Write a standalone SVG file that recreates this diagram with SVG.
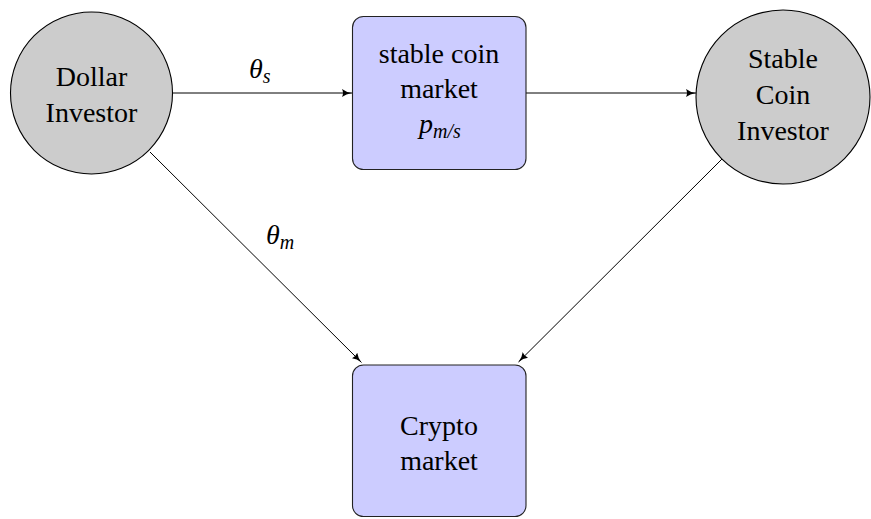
<svg xmlns="http://www.w3.org/2000/svg" width="871" height="519" viewBox="0 0 871 519">
<style>
.circ{fill:#cccccc;stroke:#000;stroke-width:1.1}
.box{fill:#ccccff;stroke:#222;stroke-width:1.1}
.t{font-size:28px;fill:#000;text-anchor:middle}
.m{font-style:italic;font-size:28px;fill:#000}
.sub{font-size:20px}
.edge{stroke:#000;stroke-width:1;fill:none;marker-end:url(#ah)}
</style>
<defs>
<marker id="ah" viewBox="0 0 10 8" refX="10" refY="4" markerWidth="10" markerHeight="8" markerUnits="userSpaceOnUse" orient="auto">
<path d="M0,0 Q4,3.2 10,4 Q4,4.8 0,8 Q2,4 0,0 Z" fill="#000"/>
</marker>
</defs>
<g font-family="'Liberation Serif', 'Times New Roman', 'DejaVu Serif', serif">
<g id="connectors">
<line class="edge" x1="173" y1="93" x2="352" y2="93"/>
<line class="edge" x1="526" y1="93" x2="696" y2="93"/>
<line class="edge" x1="150" y1="152" x2="361.5" y2="362.5"/>
<line class="edge" x1="722.5" y1="158.5" x2="518.5" y2="362"/>
<text class="m" x="249" y="78">θ<tspan class="sub" dy="5">s</tspan></text>
<text class="m" x="266" y="244">θ<tspan class="sub" dy="5">m</tspan></text>
</g>
<g id="dollar-investor">
<circle class="circ" cx="91.5" cy="93" r="81"/>
<text class="t" x="91.5" y="86">Dollar</text>
<text class="t" x="91.5" y="122">Investor</text>
</g>
<g id="stable-coin-market">
<rect class="box" x="352.5" y="16.5" width="173.5" height="153" rx="11"/>
<text class="t" x="439" y="63">stable coin</text>
<text class="t" x="439" y="98">market</text>
<text class="m" x="419" y="133">p<tspan class="sub" dy="5">m/s</tspan></text>
</g>
<g id="stable-coin-investor">
<circle class="circ" cx="783" cy="97" r="87"/>
<text class="t" x="783" y="68">Stable</text>
<text class="t" x="783" y="104">Coin</text>
<text class="t" x="783" y="140">Investor</text>
</g>
<g id="crypto-market">
<rect class="box" x="352.5" y="365" width="173.5" height="151.5" rx="11"/>
<text class="t" x="439" y="435">Crypto</text>
<text class="t" x="439" y="470">market</text>
</g>
</g>
</svg>
